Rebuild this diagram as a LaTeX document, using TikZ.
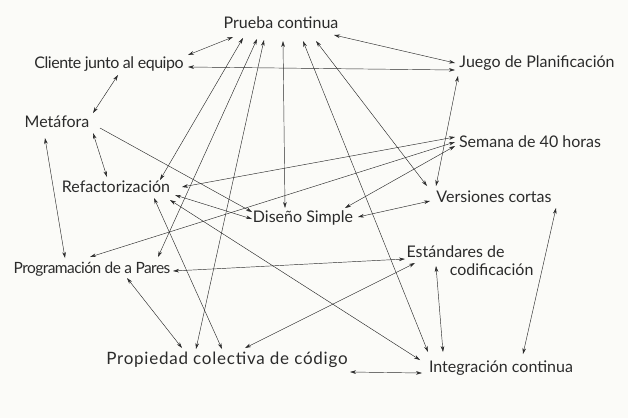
\documentclass[tikz,border=0pt]{standalone}
\usepackage{fontspec}
\setmainfont{Lato}
\usepackage{tikz}
\usetikzlibrary{arrows.meta}
\definecolor{ink}{HTML}{2B2B2B}
\definecolor{paper}{HTML}{FBFBF8}

\begin{document}
\begin{tikzpicture}[
  x=1pt, y=-1pt,
  practice/.style={inner sep=1pt, text=ink, font=\fontsize{16}{18}\selectfont, align=center},
  link/.style={{Stealth[length=6pt,width=3.6pt]}-{Stealth[length=6pt,width=3.6pt]}, draw=ink, line width=0.45pt},
  oneway/.style={-{Stealth[length=6pt,width=3.6pt]}, draw=ink, line width=0.45pt}
]
\fill[paper] (0,0) rectangle (628,418);
\useasboundingbox (0,0) rectangle (628,418);

% practices
\node[practice] (pc)  at (281,23)  {Prueba continua};
\node[practice, font=\fontsize{16}{18}\selectfont\addfontfeature{LetterSpace=-3}] (cli) at (109,64) {Cliente junto al equipo};
\node[practice] (jue) at (537,63)  {Juego de Planificación};
\node[practice] (met) at (57,122)  {Metáfora};
\node[practice] (sem) at (530,142) {Semana de 40 horas};
\node[practice] (ref) at (116,187) {Refactorización};
\node[practice] (ver) at (494,197) {Versiones cortas};
\node[practice] (dis) at (303,218) {Diseño Simple};
\node[practice, font=\fontsize{15.5}{18}\selectfont\addfontfeature{LetterSpace=-3.5}] (par) at (92,269) {Programación de a Pares};
\node[practice, align=left] (est) at (470,261) {Estándares de\\\hspace*{2.7em}codificación};
\node[practice, font=\fontsize{17}{19}\selectfont\addfontfeature{LetterSpace=4.5}] (pro) at (227,360) {Propiedad colectiva de código};
\node[practice] (int) at (501,368) {Integración continua};

% links from Prueba continua
\draw[link] ([shift={(-48,14)}]pc.center) -- ([shift={(79,-9)}]cli.center);
\draw[link] ([shift={(-38,15)}]pc.center) -- ([shift={(44,-7)}]ref.center);
\draw[link] ([shift={(-24,16)}]pc.center) -- ([shift={(66,-12)}]par.center);
\draw[link] ([shift={(-17,17)}]pc.center) -- ([shift={(-31,-11)}]pro.center);
\draw[link] ([shift={(2,18)}]pc.center) -- ([shift={(-18,-10)}]dis.center);
\draw[link] ([shift={(22,18)}]pc.center) -- ([shift={(-73,-16)}]int.center);
\draw[link] ([shift={(35,18)}]pc.center) -- ([shift={(-67,-11)}]ver.center);
\draw[link] ([shift={(53,12)}]pc.center) -- ([shift={(-82,0)}]jue.center);

% other links
\draw[link] ([shift={(79,3)}]cli.center) -- ([shift={(-82,7)}]jue.center);
\draw[link] ([shift={(9,11)}]cli.center) -- ([shift={(36,-9)}]met.center);
\draw[link] ([shift={(36,11)}]met.center) -- ([shift={(-9,-10)}]ref.center);
\draw[link] ([shift={(-12,16)}]met.center) -- ([shift={(-27,-11)}]par.center);
\draw[oneway] ([shift={(43,6)}]met.center) -- ([shift={(-51,-6)}]dis.center);
\draw[link] ([shift={(59,8)}]ref.center) -- ([shift={(-51,1)}]dis.center);
\draw[link] ([shift={(66,0)}]ref.center) -- ([shift={(-75,-5)}]sem.center);
\draw[link] ([shift={(54,13)}]ref.center) -- ([shift={(-81,-8)}]int.center);
\draw[link] ([shift={(38,11)}]ref.center) -- ([shift={(-5,-11)}]pro.center);
\draw[link] ([shift={(-75,0)}]sem.center) -- ([shift={(-2,-12)}]par.center);
\draw[link] ([shift={(-75,4)}]sem.center) -- ([shift={(42,-10)}]dis.center);
\draw[link] ([shift={(-79,13)}]jue.center) -- ([shift={(-58,-11)}]ver.center);
\draw[link] ([shift={(55,-1)}]dis.center) -- ([shift={(-64,4)}]ver.center);
\draw[link] ([shift={(81,2)}]par.center) -- ([shift={(-65,-2)}]est.center);
\draw[link] ([shift={(35,9)}]par.center) -- ([shift={(-45,-12)}]pro.center);
\draw[link] ([shift={(-55,2)}]est.center) -- ([shift={(18,-12)}]pro.center);
\draw[link] ([shift={(-34,5)}]est.center) -- ([shift={(-58,-16)}]int.center);
\draw[link] ([shift={(62,11)}]ver.center) -- ([shift={(22,-14)}]int.center);
\draw[link] ([shift={(123,12)}]pro.center) -- ([shift={(-79,5)}]int.center);
\end{tikzpicture}
\end{document}
